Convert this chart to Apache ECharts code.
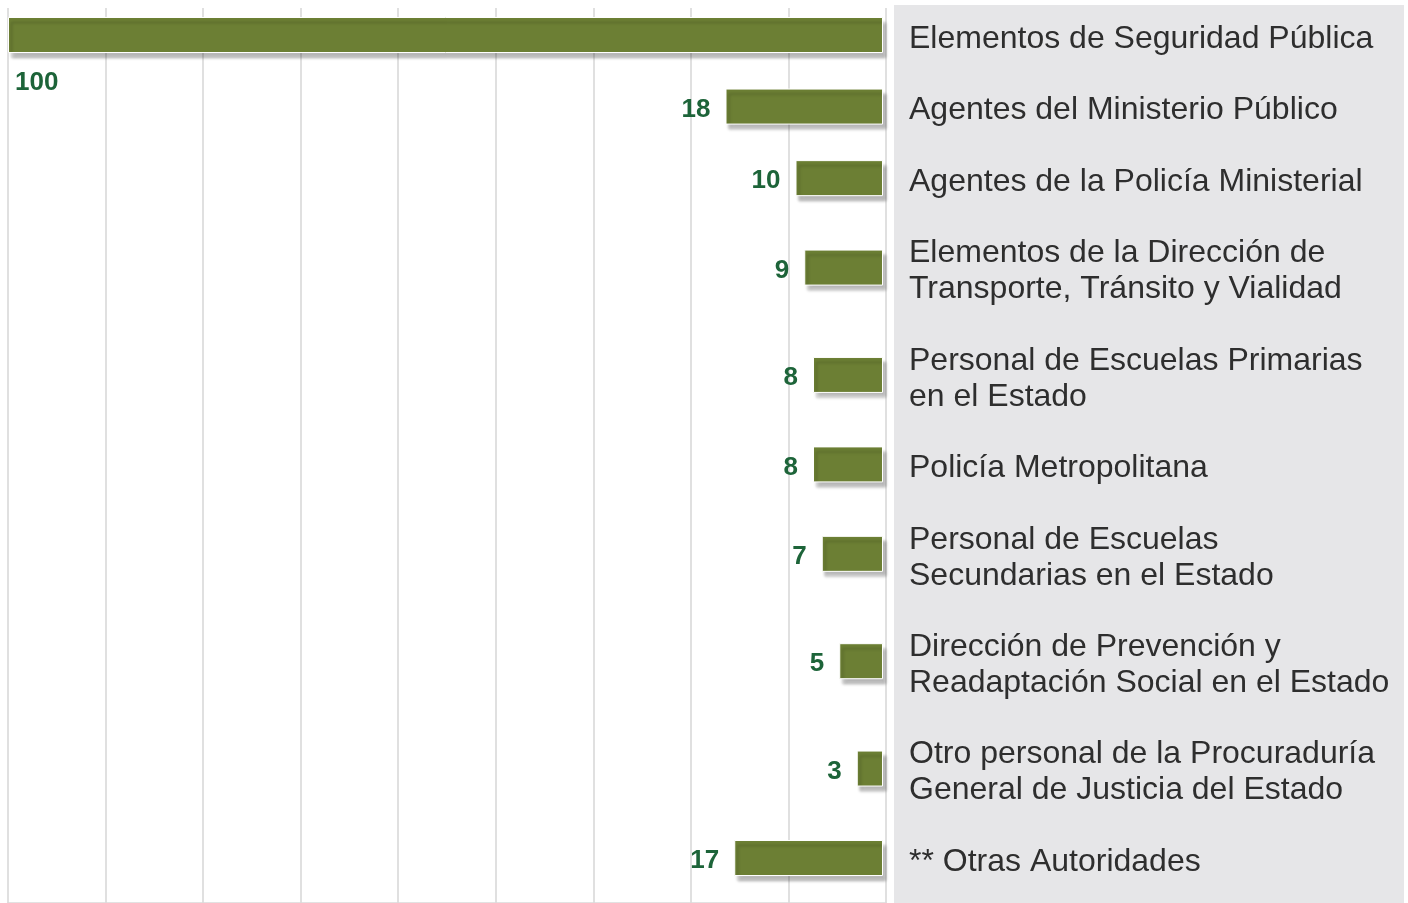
<!DOCTYPE html>
<html>
<head>
<meta charset="utf-8">
<script src="https://cdn.jsdelivr.net/npm/echarts@6/dist/echarts.min.js"></script>
<style>html,body{margin:0;padding:0;background:#fff}#c{width:1408px;height:903px}</style>
</head>
<body>
<div id="c"></div>
<script>
const categories = [
  'Elementos de Seguridad Pública',
  'Agentes del Ministerio Público',
  'Agentes de la Policía Ministerial',
  'Elementos de la Dirección de\nTransporte, Tránsito y Vialidad',
  'Personal de Escuelas Primarias\nen el Estado',
  'Policía Metropolitana',
  'Personal de Escuelas\nSecundarias en el Estado',
  'Dirección de Prevención y\nReadaptación Social en el Estado',
  'Otro personal de la Procuraduría\nGeneral de Justicia del Estado',
  '** Otras Autoridades'
];
const values = [100, 18, 10, 9, 8, 8, 7, 5, 3, 17];

// Each row gets vertical room proportional to its number of text lines + 1
// (in half-row units); the axis is a point scale built from the categories.
const half = categories.map(c => c.split('\n').length + 1);
const axisSlots = [];
const slotValues = [];
categories.forEach((c, i) => {
  if (i > 0) {
    const gap = half[i - 1] + half[i];
    for (let k = 1; k < gap; k++) { axisSlots.push(''); slotValues.push('-'); }
  }
  axisSlots.push(c);
  slotValues.push(i === 0
    ? {value: values[i], label: {position: [7, 66], offset: [0, 0], align: 'left', verticalAlign: 'middle'}}
    : values[i]);
});

const chart = echarts.init(document.getElementById('c'), null, {renderer: 'canvas'});
const FONT = 'Liberation Sans, Arial, sans-serif';

const hiddenX = (gi) => ({
  gridIndex: gi, type: 'value', min: 0, max: 100, inverse: true,
  axisLine: {show: false}, axisTick: {show: false}, axisLabel: {show: false},
  splitLine: {show: false}
});

chart.setOption({
  animation: false,
  backgroundColor: '#ffffff',
  graphic: [{
    type: 'rect', z: -10, silent: true,
    shape: {x: 894, y: 5, width: 510, height: 898},
    style: {fill: '#e6e6e8'}
  }],
  grid: [
    {left: 8, right: 522, top: 8, bottom: 0},
    {left: 8, right: 525, top: 35, bottom: 45},
    {left: 8, right: 525, top: 39, bottom: 41}
  ],
  xAxis: [
    {
      gridIndex: 0, type: 'value', min: 0, max: 9, interval: 1, inverse: true, position: 'top',
      axisLine: {show: true, lineStyle: {color: '#d9d9d9', width: 1.5}},
      axisTick: {show: false}, axisLabel: {show: false},
      splitLine: {show: true, lineStyle: {color: '#d6d6d6', width: 1.5}}
    },
    hiddenX(1),
    hiddenX(2)
  ],
  yAxis: [
    {gridIndex: 0, type: 'value', min: 0, max: 1, show: false},
    {
      gridIndex: 1, type: 'category', data: axisSlots, inverse: true, position: 'right',
      boundaryGap: false,
      axisLine: {show: false}, axisTick: {show: false}, splitLine: {show: false},
      axisLabel: {show: false}
    },
    {
      gridIndex: 2, type: 'category', data: axisSlots, inverse: true, position: 'right',
      boundaryGap: false,
      axisLine: {show: false}, axisTick: {show: false}, splitLine: {show: false},
      axisLabel: {
        interval: 0, margin: 26, align: 'left', color: '#2e2e2e',
        fontFamily: FONT, fontSize: 32, lineHeight: 36
      }
    }
  ],
  series: [{
    type: 'bar', xAxisIndex: 1, yAxisIndex: 1,
    data: slotValues, barWidth: 36,
    itemStyle: {
      color: '#6c7f34', borderColor: '#ffffff', borderWidth: 1,
      shadowColor: 'rgba(0,0,0,0.28)', shadowBlur: 3, shadowOffsetX: 3, shadowOffsetY: 5
    },
    label: {
      show: true, position: 'left', distance: 15, offset: [0, 3],
      color: '#1d6439', fontFamily: FONT, fontSize: 26, fontWeight: 'bold'
    }
  }]
});
</script>
</body>
</html>
